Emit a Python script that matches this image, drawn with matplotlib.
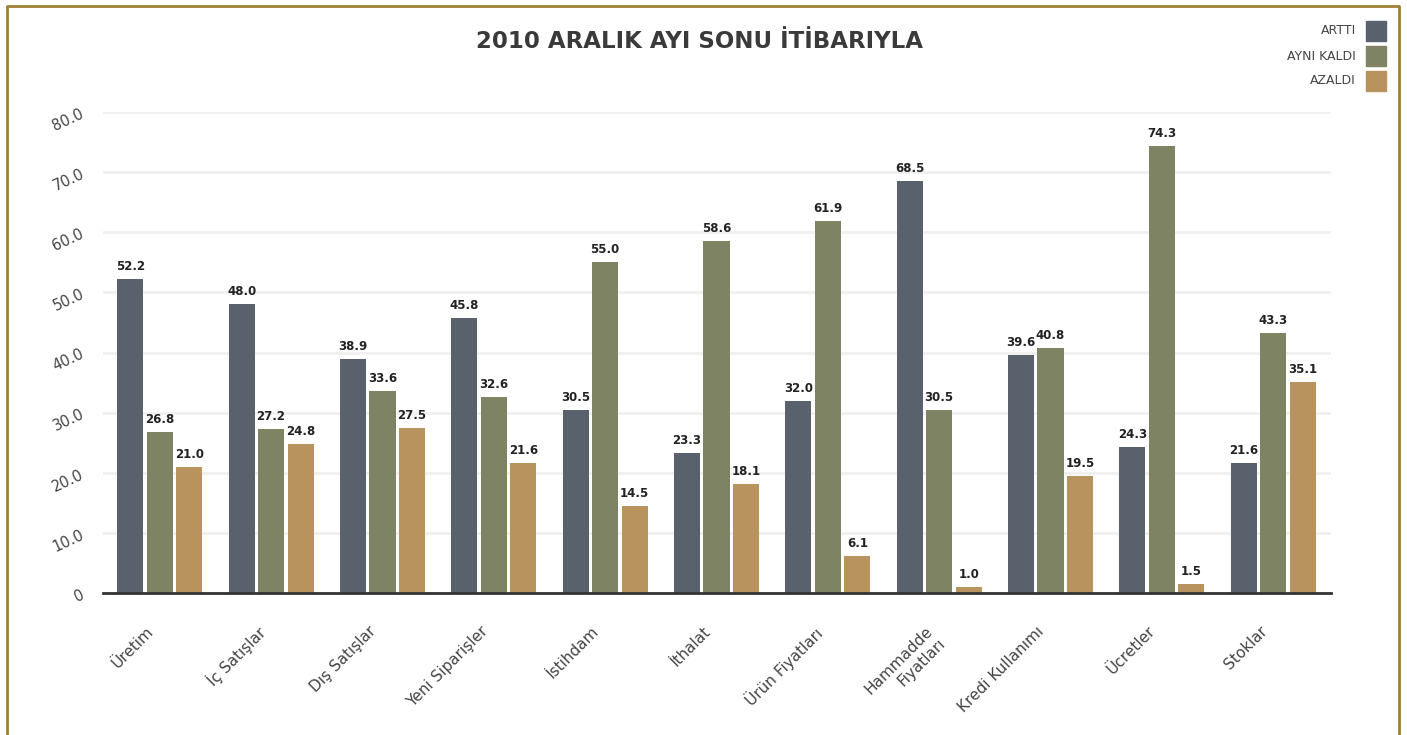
import matplotlib
matplotlib.use('Agg')

import numpy as np
import matplotlib.pyplot as plt
import matplotlib.transforms as mtransforms
from matplotlib.lines import Line2D
from matplotlib.patches import Rectangle

# Veriler
categories = ['Üretim', 'İç Satışlar', 'Dış Satışlar', 'Yeni Siparişler', 'İstihdam',
              'İthalat', 'Ürün Fiyatları', 'Hammadde\nFiyatları', 'Kredi Kullanımı',
              'Ücretler', 'Stoklar']
artti = [52.2, 48.0, 38.9, 45.8, 30.5, 23.3, 32.0, 68.5, 39.6, 24.3, 21.6]
ayni_kaldi = [26.8, 27.2, 33.6, 32.6, 55.0, 58.6, 61.9, 30.5, 40.8, 74.3, 43.3]
azaldi = [21.0, 24.8, 27.5, 21.6, 14.5, 18.1, 6.1, 1.0, 19.5, 1.5, 35.1]
series_names = ['ARTTI', 'AYNI KALDI', 'AZALDI']
y_ticks = [0, 10, 20, 30, 40, 50, 60, 70, 80]
y_tick_labels = ['0', '10.0', '20.0', '30.0', '40.0', '50.0', '60.0', '70.0', '80.0']

colors = ['#59626c', '#7e8463', '#b8935d']
text_color = '#3a3a3a'

fig = plt.figure(figsize=(14.07, 7.35), dpi=100)
ax = fig.add_axes([0.0732, 0.1932, 0.8728, 0.6544])

x = np.arange(len(categories))
width = 0.235
offset = 0.265

for i, (vals, col) in enumerate(zip([artti, ayni_kaldi, azaldi], colors)):
    pos = x + (i - 1) * offset
    ax.bar(pos, vals, width=width, color=col, zorder=3)
    for p, v in zip(pos, vals):
        ax.text(p, v + 1.0, f"{v:.1f}", ha='center', va='bottom', fontsize=8.5,
                fontweight='bold', color='#222222', zorder=4)

ax.set_xlim(-0.51, len(categories) - 0.48)
ax.set_ylim(0, 80)

# Mřížka
ax.set_yticks(y_ticks)
ax.set_yticklabels(y_tick_labels, rotation=25, fontsize=10.5, color='#444444')
ax.yaxis.grid(True, color='#f0f0f0', linewidth=2, zorder=0)
ax.tick_params(axis='y', length=0, pad=12)
ax.tick_params(axis='x', length=0, pad=22)

ax.set_xticks(x)
ax.set_xticklabels(categories, rotation=45, ha='right', rotation_mode='anchor',
                   fontsize=11, color='#444444')
shift = mtransforms.ScaledTranslation(-10 / 72, 0, fig.dpi_scale_trans)
for lbl in ax.get_xticklabels():
    lbl.set_transform(lbl.get_transform() + shift)

for s in ['top', 'right', 'left']:
    ax.spines[s].set_visible(False)
ax.spines['bottom'].set_color('#333333')
ax.spines['bottom'].set_linewidth(2)
ax.spines['bottom'].set_zorder(5)

# Titulek
fig.text(0.4975, 0.943, '2010 ARALIK AYI SONU İTİBARIYLA', ha='center', va='center',
         fontsize=16.5, fontweight='bold', color=text_color)

# Legenda
for i, (name, col) in enumerate(zip(series_names, colors)):
    y_px = 31 + i * 25
    yf = 1 - y_px / 735
    fig.text(1356 / 1407, yf, name, ha='right', va='center', fontsize=9, color='#444444')
    fig.patches.append(Rectangle((1366 / 1407, yf - 10 / 735), 20 / 1407, 20 / 735,
                                 transform=fig.transFigure, color=col, figure=fig))

# Rámeček
border = '#a07f35'
fig.lines.append(Line2D([7 / 1407, 7 / 1407, 1399 / 1407, 1399 / 1407],
                        [0, 1 - 6 / 735, 1 - 6 / 735, 0],
                        transform=fig.transFigure, color=border, linewidth=2, figure=fig))

plt.savefig('out.png', dpi=100)
plt.close(fig)
